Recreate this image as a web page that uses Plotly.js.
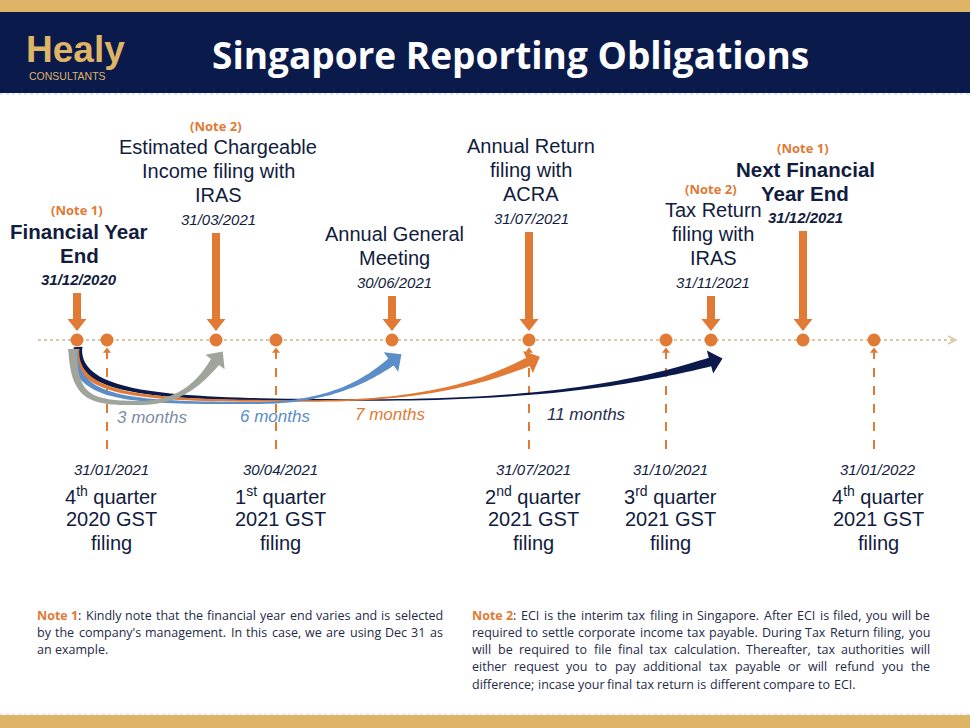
<!DOCTYPE html>
<html><head><meta charset="utf-8">
<script src="https://cdn.plot.ly/plotly-3.0.1.min.js"></script>
<style>html,body{margin:0;padding:0;background:#fff;}#chart{width:970px;height:728px;}</style>
</head><body><div id="chart"></div>
<script>
// ================= DATA =================
const titleText = "Singapore Reporting Obligations";
const logoMain = "Healy";
const logoSub = "CONSULTANTS";

// events above the timeline
const eventLines = [
  ["Financial Year", "End"],
  ["Estimated Chargeable", "Income filing with", "IRAS"],
  ["Annual General", "Meeting"],
  ["Annual Return", "filing with", "ACRA"],
  ["Tax Return", "filing with", "IRAS"],
  ["Next Financial", "Year End"]
];
const eventDates = ["31/12/2020", "31/03/2021", "30/06/2021", "31/07/2021", "31/11/2021", "31/12/2021"];
const eventNotes = ["(Note 1)", "(Note 2)", "", "", "(Note 2)", "(Note 1)"];
const eventKey = [true, false, false, false, false, true];
const eventTimelinePos = [77, 216, 392, 529, 711, 803];

// GST filings below the timeline
const gstDates = ["31/01/2021", "30/04/2021", "31/07/2021", "31/10/2021", "31/01/2022"];
const gstQuarter = ["4<sup>th</sup> quarter", "1<sup>st</sup> quarter", "2<sup>nd</sup> quarter", "3<sup>rd</sup> quarter", "4<sup>th</sup> quarter"];
const gstYear = ["2020 GST", "2021 GST", "2021 GST", "2021 GST", "2021 GST"];
const gstLast = ["filing", "filing", "filing", "filing", "filing"];
const gstTimelinePos = [107, 276, 529, 666, 874];

// durations from the financial year end
const durLabels = ["3 months", "6 months", "7 months", "11 months"];
const durTarget = [1, 2, 3, 4];

// notes
const note1Lines = [
  "Kindly note that the financial year end varies and is selected",
  "by the company's management. In this case, we are using Dec 31 as",
  "an example."
];
const note2Lines = [
  "ECI is the interim tax filing in Singapore. After ECI is filed, you will be",
  "required to settle corporate income tax payable. During Tax Return filing, you",
  "will be required to file final tax calculation. Thereafter, tax authorities will",
  "either request you to pay additional tax payable or will refund you the",
  "difference; incase your final tax return is different compare to ECI."
];

// ================= STYLE / LAYOUT =================
const W = 970, H = 728;
const ORANGE = '#E07A35', TXT = '#111C3E', HEADER = '#0A1A4B', GOLD = '#DEB466';
const SANS = 'Liberation Sans, Arial, sans-serif';
const OPEN = 'Open Sans, sans-serif';
const NOTE_SIZE = 12.5;
const lineY = 340;
const eventDateY = [279, 219, 282, 218, 282, 217];
const lineGap = 24;
const arrowTipY = 331;
const gstTextY = [469, 495, 519, 543];
const durStyle = [
  {color: '#A0A59C', lab: '#7D8CA3', start: [73, 349], bottom: [140, 403], w: [10, 4, 10], lx: 152, ly: 417},
  {color: '#5B8DC9', lab: '#5B8DC9', start: [74, 350], bottom: [255, 403], w: [9, 2, 9], lx: 275, ly: 416},
  {color: ORANGE, lab: ORANGE, start: [76, 349], bottom: [310, 401], w: [7, 1.5, 9], lx: 390, ly: 414},
  {color: '#0B1A4A', lab: '#1F2D50', start: [78, 347], bottom: [370, 400], w: [9, 1.5, 9], lx: 586, ly: 414}
];

const shapes = [];
const annotations = [];

function ann(x, y, text, size, color, family, extra) {
  return Object.assign({x, y, xref: 'x', yref: 'y', text, showarrow: false,
    font: {family: family || SANS, size, color}, xanchor: 'center', yanchor: 'middle'}, extra || {});
}

// header bands
shapes.push({type: 'rect', xref: 'paper', yref: 'y', x0: 0, x1: 1, y0: 0, y1: 12, fillcolor: GOLD, line: {width: 0}, layer: 'below'});
shapes.push({type: 'rect', xref: 'paper', yref: 'y', x0: 0, x1: 1, y0: 12, y1: 93, fillcolor: HEADER, line: {width: 0}, layer: 'below'});
shapes.push({type: 'line', xref: 'paper', yref: 'y', x0: 0, x1: 1, y0: 94, y1: 94, line: {color: '#BFD3E6', width: 1, dash: 'dot'}, layer: 'below'});
shapes.push({type: 'rect', xref: 'paper', yref: 'y', x0: 0, x1: 1, y0: 715, y1: 728, fillcolor: GOLD, line: {width: 0}, layer: 'below'});
shapes.push({type: 'line', xref: 'paper', yref: 'y', x0: 0, x1: 1, y0: 714, y1: 714, line: {color: '#D8D8D8', width: 1, dash: 'dot'}, layer: 'below'});

annotations.push(ann(75, 49, '<b>' + logoMain + '</b>', 37, GOLD, SANS));
annotations.push(ann(67, 76, logoSub, 10.5, GOLD, SANS));
annotations.push(ann(510, 54, '<b>' + titleText + '</b>', 37, '#FFFFFF', OPEN));

// timeline
shapes.push({type: 'line', xref: 'x', yref: 'y', x0: 38, x1: 955, y0: lineY, y1: lineY, line: {color: '#D9C7A5', width: 2, dash: 'dot'}, layer: 'below'});
shapes.push({type: 'path', xref: 'x', yref: 'y', path: `M 948 ${lineY - 4} L 956 ${lineY} L 948 ${lineY + 4}`, line: {color: '#D9C7A5', width: 1.5}, layer: 'below'});

// events above
eventLines.forEach((lines, i) => {
  const cx = eventTimelinePos[i] + 2;
  const dY = eventDateY[i];
  const key = eventKey[i];
  const dateTxt = key ? '<b><i>' + eventDates[i] + '</i></b>' : '<i>' + eventDates[i] + '</i>';
  annotations.push(ann(cx, dY, dateTxt, 15, TXT));
  lines.forEach((ln, j) => {
    const y = dY - lineGap * (lines.length - j);
    annotations.push(ann(cx, y, key ? '<b>' + ln + '</b>' : ln, key ? 20.5 : 20, TXT));
  });
  if (eventNotes[i]) {
    const y = dY - lineGap * lines.length - 21;
    annotations.push(ann(eventTimelinePos[i], y, '<b>' + eventNotes[i] + '</b>', 13, ORANGE, OPEN));
  }
  // down arrow
  const x = eventTimelinePos[i], top = dY + 14, hb = arrowTipY - 12;
  shapes.push({type: 'path', xref: 'x', yref: 'y',
    path: `M ${x - 4} ${top} L ${x + 4} ${top} L ${x + 4} ${hb} L ${x + 9.5} ${hb} L ${x} ${arrowTipY} L ${x - 9.5} ${hb} L ${x - 4} ${hb} Z`,
    fillcolor: ORANGE, line: {width: 0}});
});

// GST below
gstDates.forEach((d, i) => {
  const x = gstTimelinePos[i];
  shapes.push({type: 'line', xref: 'x', yref: 'y', x0: x, x1: x, y0: lineY + 10, y1: 456, line: {color: ORANGE, width: 2, dash: 'dash'}, layer: 'below'});
  const cx = x + 4;
  annotations.push(ann(cx, gstTextY[0], '<i>' + d + '</i>', 15, TXT));
  annotations.push(ann(cx, gstTextY[1], gstQuarter[i], 20, TXT));
  annotations.push(ann(cx, gstTextY[2], gstYear[i], 20, TXT));
  annotations.push(ann(cx, gstTextY[3], gstLast[i], 20, TXT));
});

// tapered curved arrows
function cub(p0, p1, p2, p3, t) {
  const u = 1 - t;
  return [u*u*u*p0[0] + 3*u*u*t*p1[0] + 3*u*t*t*p2[0] + t*t*t*p3[0],
          u*u*u*p0[1] + 3*u*u*t*p1[1] + 3*u*t*t*p2[1] + t*t*t*p3[1]];
}
function buildArrow(s, b, tip, w, headW, headL) {
  const base = [tip[0] - 2, tip[1] + headL];
  const seg1 = [s, [s[0], s[1] + (b[1] - s[1]) * 0.95], [s[0] + (b[0] - s[0]) * 0.3, b[1]], b];
  const seg2 = [b, [b[0] + (base[0] - b[0]) * 0.55, b[1]], [base[0] - (base[0] - b[0]) * 0.18, base[1] + (b[1] - base[1]) * 0.45], base];
  const pts = [], ws = [];
  const N = 40;
  for (let k = 0; k <= N; k++) { const t = k / N; pts.push(cub(...seg1, t)); ws.push(w[0] + (w[1] - w[0]) * Math.sqrt(t)); }
  for (let k = 1; k <= N; k++) { const t = k / N; pts.push(cub(...seg2, t)); ws.push(w[1] + (w[2] - w[1]) * t * t); }
  const L = [], R = [];
  for (let k = 0; k < pts.length; k++) {
    const a = pts[Math.max(0, k - 1)], c = pts[Math.min(pts.length - 1, k + 1)];
    let dx = c[0] - a[0], dy = c[1] - a[1]; const len = Math.hypot(dx, dy) || 1; dx /= len; dy /= len;
    const nx = -dy, ny = dx, hw = ws[k] / 2;
    L.push([pts[k][0] + nx * hw, pts[k][1] + ny * hw]);
    R.push([pts[k][0] - nx * hw, pts[k][1] - ny * hw]);
  }
  const e = pts[pts.length - 1], p = pts[pts.length - 3];
  let dx = e[0] - p[0], dy = e[1] - p[1]; const len = Math.hypot(dx, dy); dx /= len; dy /= len;
  const nx = -dy, ny = dx;
  const h1 = [e[0] + nx * headW / 2, e[1] + ny * headW / 2];
  const h2 = [e[0] - nx * headW / 2, e[1] - ny * headW / 2];
  const tp = [e[0] + dx * headL, e[1] + dy * headL];
  let path = 'M ' + L.map(q => q[0].toFixed(2) + ' ' + q[1].toFixed(2)).join(' L ');
  path += ` L ${h1[0].toFixed(2)} ${h1[1].toFixed(2)} L ${tp[0].toFixed(2)} ${tp[1].toFixed(2)} L ${h2[0].toFixed(2)} ${h2[1].toFixed(2)}`;
  path += ' L ' + R.reverse().map(q => q[0].toFixed(2) + ' ' + q[1].toFixed(2)).join(' L ') + ' Z';
  return path;
}
[3, 2, 1, 0].forEach(i => {
  const st = durStyle[i];
  const tx = eventTimelinePos[durTarget[i]] + 1;
  shapes.push({type: 'path', xref: 'x', yref: 'y', path: buildArrow(st.start, st.bottom, [tx, 349], st.w, 24, 13),
    fillcolor: st.color, line: {width: 0}});
});
durLabels.forEach((l, i) => {
  const st = durStyle[i];
  annotations.push(ann(st.lx, st.ly, '<i>' + l + '</i>', 17, st.lab));
});

// notes (justified)
const cv = document.createElement('canvas').getContext('2d');
function measure(txt, bold) { cv.font = (bold ? 'bold ' : '') + NOTE_SIZE + 'px "Open Sans"'; return cv.measureText(txt).width; }
function justify(label, lines, left, right, y0, dy) {
  lines.forEach((ln, li) => {
    const words = ln.split(' ');
    const toks = words.map(w => ({html: w, w: measure(w, false)}));
    if (li === 0) {
      toks.unshift({html: `<b><span style="color:${ORANGE}">${label}</span></b>:`, w: measure(label, true) + measure(':', false)});
    }
    const total = toks.reduce((a, t) => a + t.w, 0);
    const sp = measure(' ', false);
    const last = li === lines.length - 1;
    const gap = last ? sp : Math.max(sp * 0.5, (right - left - total) / (toks.length - 1));
    let x = left;
    toks.forEach(t => {
      annotations.push({x, y: y0 + li * dy, xref: 'x', yref: 'y', text: t.html, showarrow: false,
        font: {family: OPEN, size: NOTE_SIZE, color: '#1E2A48'}, xanchor: 'left', yanchor: 'middle', borderpad: 0, borderwidth: 0});
      x += t.w + gap;
    });
  });
}
justify('Note 1', note1Lines, 37, 443, 615, 17.3);
justify('Note 2', note2Lines, 472, 930, 615, 17.3);

// circles on timeline
const circleX = eventTimelinePos.concat(gstTimelinePos.filter(v => !eventTimelinePos.includes(v)));
const traces = [
  {type: 'scatter', mode: 'markers', x: gstTimelinePos, y: gstTimelinePos.map(() => lineY + 11), hoverinfo: 'skip',
   marker: {symbol: 'triangle-up', size: 7, color: ORANGE}},
  {type: 'scatter', mode: 'markers', x: circleX, y: circleX.map(() => lineY), hoverinfo: 'skip',
   marker: {symbol: 'circle', size: 13, color: ORANGE, line: {width: 0}}}
];

const layout = {
  width: W, height: H, margin: {l: 0, r: 0, t: 0, b: 0}, showlegend: false,
  paper_bgcolor: '#FFFFFF', plot_bgcolor: '#FFFFFF',
  xaxis: {range: [0, W], visible: false, fixedrange: true},
  yaxis: {range: [H, 0], visible: false, fixedrange: true},
  shapes, annotations
};
Plotly.newPlot('chart', traces, layout, {staticPlot: true});
</script></body></html>
